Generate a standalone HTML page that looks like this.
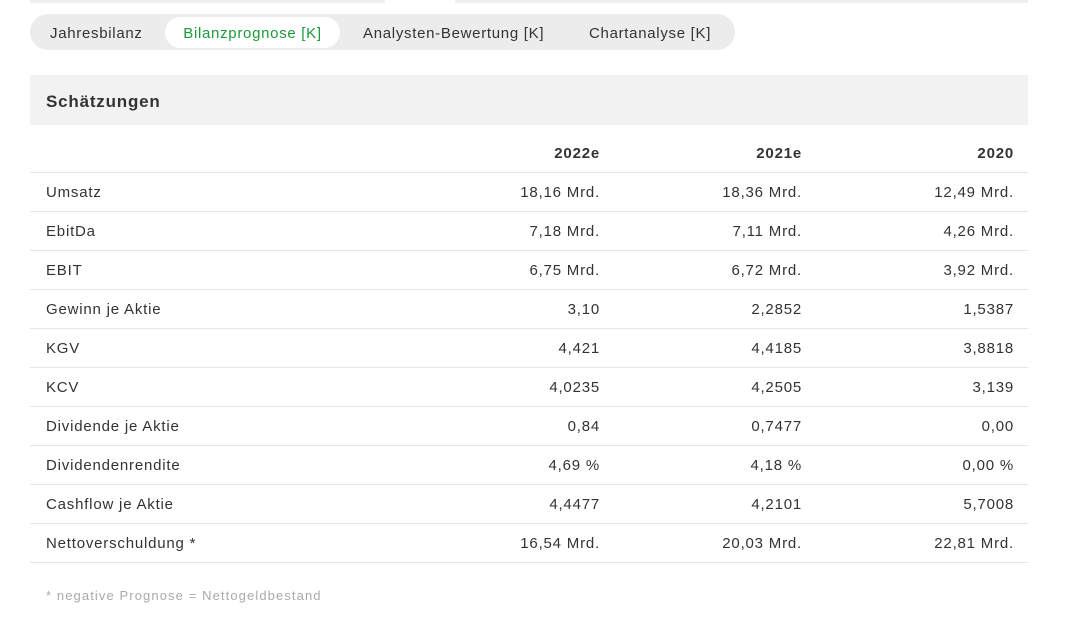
<!DOCTYPE html>
<html><head><meta charset="utf-8"><style>
body{margin:0;width:1087px;height:618px;background:#fff;font-family:"Liberation Sans",sans-serif;color:#333;position:relative;overflow:hidden;letter-spacing:0.8px}
.top{position:absolute;left:30px;top:0;width:998px;height:3px;background:#eee}
.gap{position:absolute;left:385px;top:0;width:70px;height:3px;background:#fff}
.tabs{position:absolute;left:30px;top:14px;width:705px;height:36px;background:#ececec;border-radius:18px}
.tab{position:absolute;top:4px;height:31px;line-height:31px;font-size:15px;color:#333;letter-spacing:0.7px}
.act{top:3px;background:#fff;border-radius:16px;color:#1a9a3a;text-align:center;line-height:33px}
.hdr{position:absolute;left:30px;top:75px;width:998px;height:50px;background:#f2f2f2}
.hdr span{position:absolute;left:16px;top:17px;font-size:17px;font-weight:bold;color:#333}
table{position:absolute;left:30px;top:133px;width:998px;border-collapse:collapse;font-size:15px;table-layout:fixed}
td{height:39px;border-bottom:1px solid #e6e6e6;padding:2px 0 0 0;box-sizing:border-box;text-align:right;white-space:nowrap}
td.c0{text-align:left;padding-left:16px;width:370px}
td.c1{width:200px;padding-right:0} td.c2{width:202px} td.c3{width:226px;padding-right:14px}
tr.h td{font-weight:bold}
.foot{position:absolute;left:46px;top:588px;font-size:13px;color:#aaa;letter-spacing:1.1px}
</style></head><body>
<div class="top"></div><div class="gap"></div>
<div class="tabs">
<div class="tab" style="left:20px">Jahresbilanz</div>
<div class="tab act" style="left:135px;width:175px">Bilanzprognose [K]</div>
<div class="tab" style="left:333px">Analysten-Bewertung [K]</div>
<div class="tab" style="left:559px">Chartanalyse [K]</div>
</div>
<div class="hdr"><span>Schätzungen</span></div>
<table>
<tr class="h"><td class="c0"></td><td class="c1">2022e</td><td class="c2">2021e</td><td class="c3">2020</td></tr>
<tr><td class="c0">Umsatz</td><td class="c1">18,16 Mrd.</td><td class="c2">18,36 Mrd.</td><td class="c3">12,49 Mrd.</td></tr>
<tr><td class="c0">EbitDa</td><td class="c1">7,18 Mrd.</td><td class="c2">7,11 Mrd.</td><td class="c3">4,26 Mrd.</td></tr>
<tr><td class="c0">EBIT</td><td class="c1">6,75 Mrd.</td><td class="c2">6,72 Mrd.</td><td class="c3">3,92 Mrd.</td></tr>
<tr><td class="c0">Gewinn je Aktie</td><td class="c1">3,10</td><td class="c2">2,2852</td><td class="c3">1,5387</td></tr>
<tr><td class="c0">KGV</td><td class="c1">4,421</td><td class="c2">4,4185</td><td class="c3">3,8818</td></tr>
<tr><td class="c0">KCV</td><td class="c1">4,0235</td><td class="c2">4,2505</td><td class="c3">3,139</td></tr>
<tr><td class="c0">Dividende je Aktie</td><td class="c1">0,84</td><td class="c2">0,7477</td><td class="c3">0,00</td></tr>
<tr><td class="c0">Dividendenrendite</td><td class="c1">4,69 %</td><td class="c2">4,18 %</td><td class="c3">0,00 %</td></tr>
<tr><td class="c0">Cashflow je Aktie</td><td class="c1">4,4477</td><td class="c2">4,2101</td><td class="c3">5,7008</td></tr>
<tr><td class="c0">Nettoverschuldung *</td><td class="c1">16,54 Mrd.</td><td class="c2">20,03 Mrd.</td><td class="c3">22,81 Mrd.</td></tr>
</table>
<div class="foot">* negative Prognose = Nettogeldbestand</div>
</body></html>
